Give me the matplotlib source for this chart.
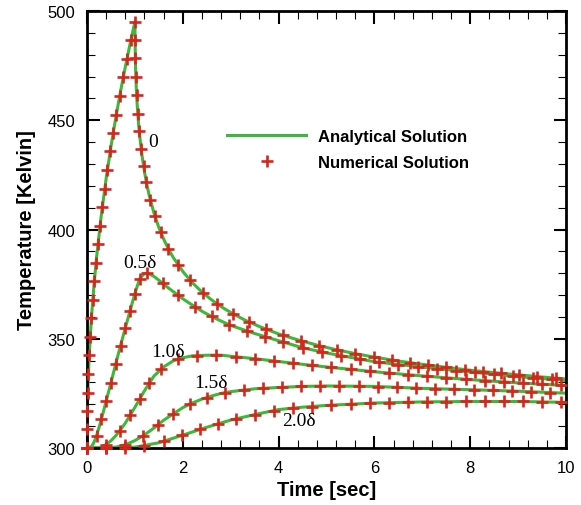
import matplotlib
matplotlib.use("Agg")
import matplotlib.pyplot as plt
from matplotlib.ticker import MultipleLocator

# Surface (depth 0): analytical curve
time_d0 = [0.0, 0.005, 0.01, 0.02, 0.04, 0.07, 0.1, 0.15, 0.2, 0.3, 0.4, 0.5, 0.6, 0.7, 0.8, 0.9, 1.0,
           1.01, 1.02, 1.04, 1.06, 1.08, 1.1, 1.15, 1.2, 1.25, 1.3, 1.4, 1.5, 1.6, 1.7, 1.8, 2.0, 2.2,
           2.4, 2.6, 2.8, 3.0, 3.3, 3.6, 4.0, 4.4, 4.8, 5.2, 5.6, 6.0, 6.5, 7.0, 7.5, 8.0, 8.5, 9.0,
           9.5, 10.0]
temp_d0 = [300.0, 313.8, 319.5, 327.6, 339.0, 351.6, 361.7, 375.5, 387.2, 406.8, 423.3, 437.9, 451.0,
           463.2, 474.4, 485.0, 495.0,
           476.5, 469.4, 459.9, 453.0, 447.5, 442.9, 433.6, 426.4, 420.5, 415.5, 407.4, 400.9, 395.6,
           391.1, 387.2, 380.8, 375.6, 371.4, 367.8, 364.7, 362.0, 358.5, 355.6, 352.2, 349.5, 347.1,
           345.0, 343.2, 341.6, 339.8, 338.3, 336.9, 335.6, 334.5, 333.5, 332.5, 331.6]

# Surface (depth 0): numerical samples
time_d0_num = [0.0, 0.002, 0.008, 0.017, 0.030, 0.047, 0.068, 0.093, 0.121, 0.153, 0.189, 0.229,
               0.272, 0.320, 0.371, 0.425, 0.484, 0.546, 0.613, 0.682, 0.756, 0.834, 0.915, 1.0,
               1.002, 1.008, 1.019, 1.036, 1.06, 1.09, 1.13, 1.18, 1.24, 1.32, 1.42, 1.54, 1.70, 1.90,
               2.14, 2.42, 2.72, 3.04, 3.38, 3.74, 4.10, 4.47, 4.84, 5.22, 5.60, 5.98, 6.36, 6.74,
               7.12, 7.50, 7.88, 8.26, 8.64, 9.02, 9.40, 9.78]
temp_d0_num = [300.0, 308.5, 317.0, 325.4, 333.9, 342.4, 350.9, 359.3, 367.8, 376.3, 384.8, 393.3,
               401.7, 410.2, 418.7, 427.2, 435.7, 444.1, 452.6, 461.1, 469.6, 478.0, 486.5, 495.0,
               486.5, 478.3, 470.0, 461.5, 453.0, 445.1, 437.0, 429.1, 421.6, 413.7, 406.0, 398.7,
               391.1, 383.8, 377.1, 371.0, 365.9, 361.5, 357.7, 354.3, 351.5, 349.0, 346.9, 344.9,
               343.2, 341.7, 340.3, 339.1, 337.9, 336.9, 335.9, 335.0, 334.2, 333.4, 332.7, 332.0]

# Depth 0.5 delta
time_d05 = [0.0, 0.1, 0.15, 0.2, 0.25, 0.3, 0.35, 0.4, 0.5, 0.6, 0.7, 0.8, 0.9, 1.0, 1.1, 1.2, 1.3,
            1.4, 1.5, 1.6, 1.8, 2.0, 2.2, 2.4, 2.6, 2.8, 3.0, 3.5, 4.0, 4.5, 5.0, 6.0, 7.0, 8.0, 9.0, 10.0]
temp_d05 = [300.0, 300.8, 302.8, 305.7, 309.3, 313.1, 317.3, 321.4, 329.9, 338.5, 346.9, 354.9, 362.9,
            370.7, 377.5, 379.9, 379.7, 378.5, 376.8, 374.9, 371.6, 368.3, 365.4, 362.6, 360.2, 358.1,
            356.1, 352.4, 349.1, 345.9, 343.5, 339.5, 337.0, 334.8, 332.7, 330.9]
time_d05_num = [0.0, 0.2, 0.3, 0.4, 0.5, 0.6, 0.7, 0.8, 0.9, 1.0, 1.1, 1.25, 1.58, 1.9, 2.25, 2.6,
                2.96, 3.34, 3.72, 4.1, 4.5, 4.9, 5.3, 5.7, 6.1, 6.5, 6.9, 7.3, 7.7, 8.1, 8.5, 8.9,
                9.3, 9.7]
temp_d05_num = [300.0, 305.7, 313.1, 321.4, 329.9, 338.5, 346.9, 354.9, 362.9, 370.7, 377.5, 380.0,
                375.3, 369.9, 364.7, 360.2, 356.5, 353.6, 350.9, 348.5, 345.9, 344.0, 342.2, 340.6,
                339.2, 338.2, 337.2, 336.3, 335.4, 334.6, 333.7, 332.9, 332.2, 331.4]

# Depth 1.0 delta
time_d10 = [0.0, 0.2, 0.3, 0.4, 0.5, 0.6, 0.7, 0.8, 0.9, 1.0, 1.2, 1.4, 1.6, 1.8, 2.0, 2.2, 2.4, 2.6,
            2.8, 3.0, 3.5, 4.0, 4.5, 5.0, 6.0, 7.0, 8.0, 9.0, 10.0]
temp_d10 = [300.0, 300.0, 300.5, 301.6, 303.3, 305.6, 308.4, 311.4, 315.0, 318.6, 326.2, 333.0, 337.1,
            339.9, 341.3, 342.2, 342.4, 342.5, 342.5, 342.0, 340.9, 339.6, 338.3, 337.1, 334.9, 333.0,
            331.3, 329.8, 328.6]
time_d10_num = [0.0, 0.4, 0.68, 0.9, 1.1, 1.3, 1.55, 1.9, 2.3, 2.7, 3.1, 3.5, 3.9, 4.3, 4.7, 5.1, 5.5,
                5.9, 6.3, 6.7, 7.1, 7.5, 7.9, 8.3, 8.7, 9.1, 9.5, 9.9]
temp_d10_num = [300.0, 301.6, 307.8, 315.0, 322.4, 329.6, 336.1, 340.6, 342.3, 342.5, 341.8, 340.9,
                339.9, 338.8, 337.8, 336.9, 336.0, 335.1, 334.3, 333.6, 332.8, 332.1, 331.5, 330.8,
                330.2, 329.7, 329.2, 328.7]

# Depth 1.5 delta
time_d15 = [0.0, 0.6, 0.8, 1.0, 1.2, 1.4, 1.6, 1.8, 2.0, 2.2, 2.4, 2.6, 2.8, 3.0, 3.5, 4.0, 4.5, 5.0,
            6.0, 7.0, 8.0, 9.0, 10.0]
temp_d15 = [300.0, 300.4, 301.5, 303.4, 306.0, 309.2, 312.7, 315.6, 318.5, 320.6, 322.4, 323.8, 325.0,
            325.8, 327.1, 327.7, 328.2, 328.4, 328.2, 327.3, 326.7, 326.0, 325.1]
time_d15_num = [0.0, 0.4, 0.8, 1.16, 1.48, 1.8, 2.14, 2.5, 2.88, 3.27, 3.67, 4.07, 4.47, 4.87, 5.27,
                5.67, 6.07, 6.47, 6.87, 7.27, 7.67, 8.07, 8.47, 8.87, 9.27, 9.67]
temp_d15_num = [300.0, 300.0, 301.5, 305.5, 310.6, 315.6, 320.0, 323.1, 325.3, 326.5, 327.3, 327.8,
                328.2, 328.4, 328.4, 328.3, 328.1, 327.8, 327.4, 327.1, 326.9, 326.7, 326.4, 326.1,
                325.8, 325.4]

# Depth 2.0 delta
time_d20 = [0.0, 0.5, 1.0, 1.5, 2.0, 2.5, 3.0, 3.5, 4.0, 4.5, 5.0, 6.0, 7.0, 8.0, 9.0, 10.0]
temp_d20 = [300.0, 300.0, 300.4, 302.4, 305.9, 309.5, 312.8, 315.3, 317.6, 318.7, 319.5, 320.6,
            321.1, 321.3, 321.3, 320.9]
time_d20_num = [0.0, 0.4, 0.8, 1.2, 1.6, 1.98, 2.36, 2.74, 3.12, 3.5, 3.9, 4.3, 4.7, 5.1, 5.5, 5.9,
                6.3, 6.7, 7.1, 7.5, 7.9, 8.3, 8.7, 9.1, 9.5, 9.9]
temp_d20_num = [300.0, 300.0, 300.1, 301.0, 303.1, 305.8, 308.5, 311.1, 313.4, 315.3, 317.1, 318.3,
                319.0, 319.6, 320.1, 320.5, 320.8, 321.0, 321.1, 321.2, 321.3, 321.3, 321.3, 321.3,
                321.1, 320.9]

curve_names = ["0", "0.5\u03b4", "1.0\u03b4", "1.5\u03b4", "2.0\u03b4"]

analytical = [(time_d0, temp_d0), (time_d05, temp_d05), (time_d10, temp_d10),
              (time_d15, temp_d15), (time_d20, temp_d20)]
numerical = [(time_d0_num, temp_d0_num), (time_d05_num, temp_d05_num), (time_d10_num, temp_d10_num),
             (time_d15_num, temp_d15_num), (time_d20_num, temp_d20_num)]

GREEN = "#3cb83c"
RED = "#d8251c"

plt.rcParams["font.family"] = ["Liberation Sans", "DejaVu Sans"]

fig = plt.figure(figsize=(5.81, 5.06), dpi=100)
ax = fig.add_axes([0.1497, 0.1126, 0.8247, 0.8637])

line_handle = None
mark_handle = None
for (t, T) in analytical:
    ln, = ax.plot(t, T, color=GREEN, lw=2.2, zorder=2, solid_joinstyle="round")
    line_handle = line_handle or ln
for (t, T) in numerical:
    mk, = ax.plot(t, T, ls="none", marker="+", ms=8, mew=1.9, color=RED, zorder=3, clip_on=False)
    mark_handle = mark_handle or mk

# depth labels next to each curve
label_pos = [(1.38, 440.5), (1.1, 384.8), (1.69, 344.0), (2.58, 330.1), (4.43, 312.5)]
for name, (x, y) in zip(curve_names, label_pos):
    ax.text(x, y, name, fontsize=14, family="Liberation Serif", ha="center", va="center")

ax.set_xlim(0, 10)
ax.set_ylim(300, 500)
ax.xaxis.set_major_locator(MultipleLocator(2))
ax.xaxis.set_minor_locator(MultipleLocator(0.4))
ax.yaxis.set_major_locator(MultipleLocator(50))
ax.yaxis.set_minor_locator(MultipleLocator(10))
ax.tick_params(which="both", direction="in", top=True, right=True, labelsize=12, pad=8.5)
ax.tick_params(which="major", length=9, width=1.5)
ax.tick_params(which="minor", length=5.5, width=0.8)
for sp in ax.spines.values():
    sp.set_linewidth(2.0)

ax.set_xlabel("Time [sec]", fontsize=14.5, fontweight="bold", labelpad=4)
ax.set_ylabel("Temperature [Kelvin]", fontsize=14.5, fontweight="bold", labelpad=8)

ax.legend([line_handle, mark_handle], ["Analytical Solution", "Numerical Solution"],
          loc="upper left", bbox_to_anchor=(0.293, 0.730), frameon=False, borderpad=0,
          borderaxespad=0, handlelength=4.72, handletextpad=0.74, labelspacing=0.65,
          numpoints=1, prop={"weight": "bold", "size": 12})

fig.savefig("out.png", dpi=100)
